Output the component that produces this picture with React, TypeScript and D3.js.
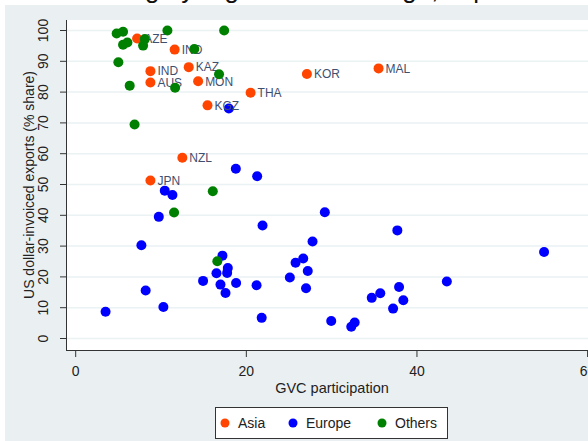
import React from "react";
import * as d3 from "d3";

const asiaX = [7.2, 11.6, 8.76, 13.25, 8.76, 14.35, 20.5, 15.45, 27.1, 35.5, 12.5, 8.76];
const asiaY = [97.4, 93.8, 86.8, 88.1, 83.1, 83.5, 79.8, 75.7, 85.9, 87.7, 58.7, 51.3];
const asiaLabels = ["AZE", "IND", "IND", "KAZ", "AUS", "MON", "THA", "KGZ", "KOR", "MAL", "NZL", "JPN"];

const othersX = [4.8, 5.55, 5.55, 6.06, 8.1, 7.9, 10.75, 17.4, 13.9, 5.0, 16.8, 6.33, 11.65, 6.9, 16.07, 11.53, 16.6];
const othersY = [99.0, 99.6, 95.4, 96.1, 97.2, 95.1, 100, 100, 94.0, 89.7, 85.8, 82.1, 81.4, 69.5, 47.8, 40.9, 25.1];

const europeX = [17.95, 18.77, 21.27, 10.44, 11.34, 9.74, 21.9, 7.7, 17.2, 17.83, 17.75, 16.5, 14.93, 16.97, 18.8, 21.2, 17.56, 8.2, 10.28, 3.5, 21.8, 29.2, 37.7, 27.76, 26.67, 25.77, 27.2, 54.9, 25.1, 43.5, 27.0, 37.9, 35.7, 34.7, 38.4, 37.2, 29.95, 32.7, 32.3];
const europeY = [74.7, 55.1, 52.7, 48.0, 46.6, 39.5, 36.7, 30.3, 26.9, 22.9, 21.3, 21.2, 18.7, 17.5, 18.0, 17.3, 14.8, 15.6, 10.2, 8.7, 6.7, 41.0, 35.1, 31.5, 26.0, 24.6, 21.9, 28.1, 19.8, 18.5, 16.3, 16.7, 14.7, 13.2, 12.4, 9.7, 5.7, 5.2, 3.8];

const yTicks = [0, 10, 20, 30, 40, 50, 60, 70, 80, 90, 100];
const xTicks = [0, 20, 40, 60];
const legendNames = ["Asia", "Europe", "Others"];

const ORANGE = "#ff4500";
const BLUE = "#0000ff";
const GREEN = "#008000";

export default function App() {
  const W = 588, H = 441;
  const x = d3.scaleLinear().domain([0, 60]).range([75.7, 587.6]);
  const y = d3.scaleLinear().domain([0, 100]).range([338.5, 30.5]);
  const plotL = 66, plotT = 20, plotB = 350;
  const font = "'Liberation Sans', Arial, sans-serif";
  const r = 5;
  const legendX = [225, 293, 382];
  const legendCols = [ORANGE, BLUE, GREEN];

  return (
    <svg width={W} height={H} style={{ position: "absolute", left: 0, top: 0 }} fontFamily={font}>
      <rect x={0} y={0} width={W} height={H} fill="#ffffff" />
      <rect x={5} y={5} width={W - 5} height={H - 5} fill="#eaf0f2" />
      <text x={531} y={-2} textAnchor="end" fontSize={26} fill="#111">US dollar invoicing by region and leverage, exports</text>
      <rect x={plotL} y={plotT} width={W - plotL} height={plotB - plotT} fill="#ffffff" />
      {yTicks.map((t) => (
        <line key={"g" + t} x1={plotL} x2={W} y1={y(t)} y2={y(t)} stroke="#eaf2f3" strokeWidth={1.5} />
      ))}
      <line x1={plotL + 0.5} x2={plotL + 0.5} y1={plotT} y2={plotB} stroke="#333" strokeWidth={1} />
      <line x1={plotL} x2={W} y1={plotB + 0.5} y2={plotB + 0.5} stroke="#333" strokeWidth={1} />
      {yTicks.map((t) => (
        <g key={"yt" + t}>
          <line x1={60} x2={plotL} y1={y(t)} y2={y(t)} stroke="#333" />
          <text transform={`translate(48,${y(t)}) rotate(-90)`} textAnchor="middle" fontSize={14} fill="#222">{t}</text>
        </g>
      ))}
      {xTicks.map((t) => (
        <g key={"xt" + t}>
          <line x1={x(t)} x2={x(t)} y1={plotB} y2={plotB + 7} stroke="#333" />
          <text x={x(t)} y={376} textAnchor="middle" fontSize={14} fill="#222">{t}</text>
        </g>
      ))}
      <text x={332} y={393} textAnchor="middle" fontSize={14.5} fill="#222">GVC participation</text>
      <text transform={`translate(34,185) rotate(-90)`} textAnchor="middle" fontSize={14} fill="#222">US dollar-invoiced exports (% share)</text>

      {europeX.map((v, i) => (
        <circle key={"e" + i} cx={x(v)} cy={y(europeY[i])} r={r} fill={BLUE} />
      ))}
      {asiaX.map((v, i) => (
        <g key={"a" + i}>
          <circle cx={x(v)} cy={y(asiaY[i])} r={r} fill={ORANGE} />
          <text x={x(v) + 7} y={y(asiaY[i]) + 4.3} fontSize={12} fill="#3f4f6e">{asiaLabels[i]}</text>
        </g>
      ))}
      {othersX.map((v, i) => (
        <circle key={"o" + i} cx={x(v)} cy={y(othersY[i])} r={r} fill={GREEN} />
      ))}

      <rect x={215.5} y={407.5} width={232} height={31} fill="#ffffff" stroke="#333" strokeWidth={1} />
      {legendNames.map((n, i) => (
        <g key={"l" + n}>
          <circle cx={legendX[i]} cy={423} r={4.5} fill={legendCols[i]} />
          <text x={legendX[i] + 13} y={428} fontSize={14} fill="#222">{n}</text>
        </g>
      ))}
    </svg>
  );
}
